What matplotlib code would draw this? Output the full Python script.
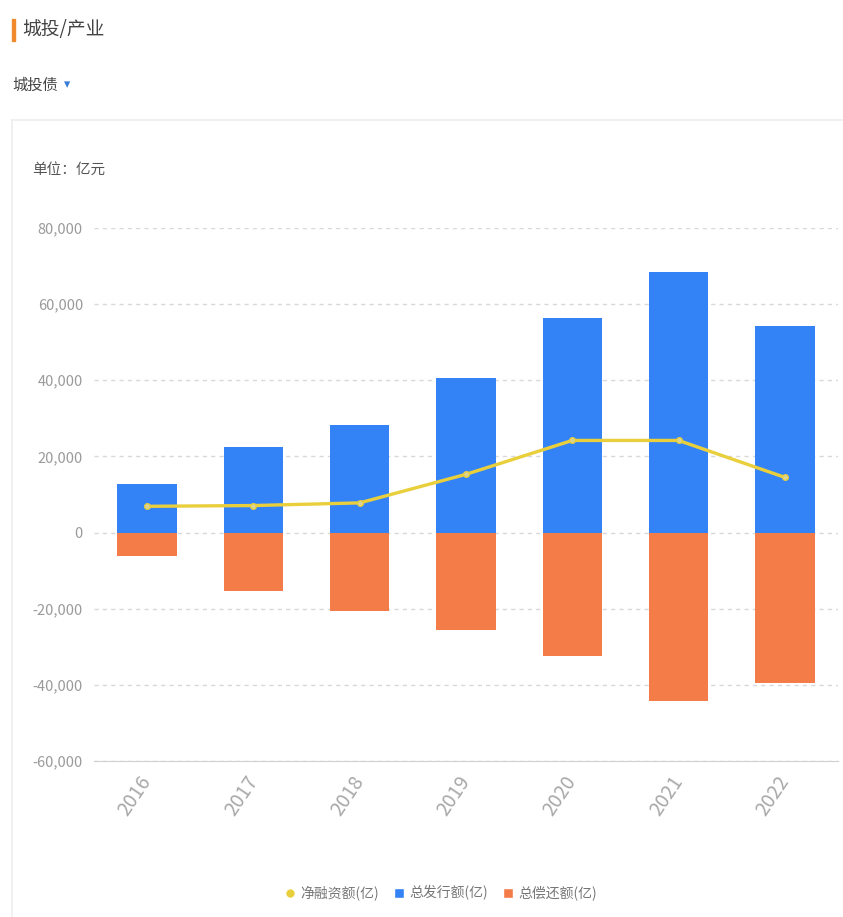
import matplotlib.pyplot as plt
import matplotlib.patches as mpatches
from matplotlib.lines import Line2D
from matplotlib.ticker import FuncFormatter
import numpy as np

plt.rcParams["font.family"] = ["Noto Sans CJK SC", "DejaVu Sans"]

years = ["2016", "2017", "2018", "2019", "2020", "2021", "2022"]
issuance = [12800, 22400, 28200, 40500, 56300, 68400, 54200]
repayment = [-6200, -15300, -20500, -25500, -32400, -44200, -39500]
net_financing = [6900, 7100, 7800, 15300, 24200, 24200, 14500]

BLUE = "#3483F6"
ORANGE = "#F47C48"
YELLOW = "#E9CF3C"
GRAY = "#9a9a9a"

fig = plt.figure(figsize=(8.43, 9.17), dpi=100)

# header texts
fig.patches.append(mpatches.Rectangle((12 / 843, 1 - 41 / 917), 3 / 843, 22 / 917,
                                      transform=fig.transFigure, color="#F08A2C"))
fig.text(22 / 843, 1 - 30 / 917, "城投/产业", fontsize=13.5, color="#444444", va="center")
fig.text(12 / 843, 1 - 85 / 917, "城投债", fontsize=11, color="#444444", va="center")
fig.text(64 / 843, 1 - 85 / 917, "▾", fontsize=9, color="#3A7BD5", va="center",
         family=["DejaVu Sans"])
fig.text(32 / 843, 1 - 170 / 917, "单位：亿元", fontsize=10.5, color="#555555", va="center")

# card border
fig.add_artist(Line2D([12 / 843, 1.0], [1 - 120 / 917] * 2, transform=fig.transFigure,
                      color="#eeeeee", lw=1.2))
fig.add_artist(Line2D([12 / 843] * 2, [1 - 120 / 917, 0.0], transform=fig.transFigure,
                      color="#eeeeee", lw=1.2))

ax = fig.add_axes([94 / 843, 1 - 761 / 917, 744 / 843, 533 / 917])
x = np.arange(len(years))
ax.bar(x, issuance, width=0.56, color=BLUE, zorder=2)
ax.bar(x, repayment, width=0.56, color=ORANGE, zorder=2)
ax.plot(x, net_financing, color=YELLOW, lw=2.4, marker="o", markersize=4,
        markerfacecolor="#d8d49a", markeredgecolor=YELLOW, zorder=3)

ax.set_xlim(-0.5, len(years) - 0.5)
ax.set_ylim(-60000, 80000)
ax.set_yticks(np.arange(-60000, 80001, 20000))
ax.yaxis.set_major_formatter(FuncFormatter(lambda v, _: f"{int(v):,}"))
ax.grid(axis="y", color="#d8d8d8", linestyle=(0, (3, 3)), lw=1, zorder=0)
for s in ["top", "right", "left"]:
    ax.spines[s].set_visible(False)
ax.spines["bottom"].set_color("#d0d0d0")
ax.spines["bottom"].set_position(("data", -60000))
ax.tick_params(axis="both", length=0, colors=GRAY, labelsize=10.5)
ax.tick_params(axis="y", pad=8)
ax.set_xticks(x)
ax.set_xticklabels(years, rotation=56, ha="right", va="center", rotation_mode="anchor",
                   fontsize=14, color="#a8a8a8")
ax.tick_params(axis="x", pad=12)

handles = [
    Line2D([], [], marker="o", color="w", markerfacecolor=YELLOW, markersize=7),
    Line2D([], [], marker="s", color="w", markerfacecolor=BLUE, markersize=7),
    Line2D([], [], marker="s", color="w", markerfacecolor=ORANGE, markersize=7),
]
fig.legend(handles, ["净融资额(亿)", "总发行额(亿)", "总偿还额(亿)"], loc="center",
           bbox_to_anchor=(440 / 843, 1 - 893 / 917), ncol=3, frameon=False,
           fontsize=10, handletextpad=0.2, columnspacing=1.0, handlelength=1.0,
           labelcolor="#777777")

fig.savefig("out.png", dpi=100)
